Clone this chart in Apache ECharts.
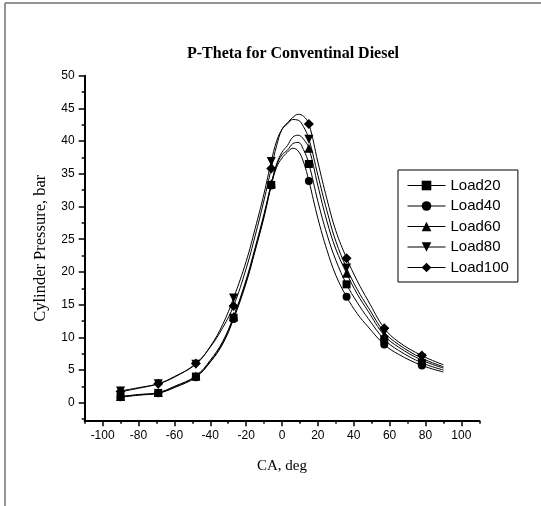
<!DOCTYPE html>
<html>
<head>
<meta charset="utf-8">
<script src="https://cdn.jsdelivr.net/npm/echarts@6/dist/echarts.min.js"></script>
<style>html,body{margin:0;padding:0;background:#fff}#c{width:541px;height:506px}</style>
</head>
<body>
<div id="c"></div>
<script>
const xs = [-90, -80, -69, -60, -48, -40, -33, -27, -20, -15, -10, -6, -3, 0, 3, 6, 9, 12, 15, 20, 25, 30, 36, 42, 48, 57, 65, 78, 90];
const markerX = [-90, -69, -48, -27, -6, 15, 36, 57, 78];
const load20 = [0.9, 1.2, 1.5, 2.4, 4.0, 6.3, 9.2, 13.0, 18.5, 23.4, 28.6, 33.3, 36.3, 37.9, 38.6, 39.6, 39.8, 38.7, 36.5, 30.8, 25.8, 21.8, 18.1, 15.3, 12.9, 9.7, 8.0, 6.1, 5.0];
const load40 = [0.85, 1.15, 1.45, 2.3, 3.9, 6.2, 9.0, 12.8, 18.3, 23.2, 28.4, 33.2, 36.0, 37.4, 38.3, 38.9, 38.5, 36.8, 33.9, 28.2, 23.4, 19.5, 16.2, 13.6, 11.6, 8.9, 7.4, 5.7, 4.7];
const load60 = [0.95, 1.25, 1.55, 2.5, 4.1, 6.5, 9.4, 13.2, 18.8, 23.7, 28.9, 33.5, 36.5, 38.3, 39.3, 40.6, 40.9, 40.3, 38.9, 33.2, 27.8, 23.5, 19.8, 16.6, 14.0, 10.3, 8.5, 6.5, 5.3];
const load80 = [1.8, 2.3, 2.9, 4.0, 5.9, 8.6, 12.0, 16.0, 21.6, 26.6, 32.0, 36.9, 40.0, 41.8, 42.6, 43.3, 43.2, 42.2, 40.3, 34.8, 29.4, 24.7, 20.6, 17.3, 14.6, 10.8, 8.9, 6.8, 5.5];
const load100 = [1.7, 2.2, 2.9, 3.9, 6.0, 8.5, 11.5, 14.8, 20.5, 25.5, 31.0, 35.8, 39.3, 41.8, 42.8, 43.6, 44.1, 43.8, 42.6, 36.8, 31.2, 26.3, 22.1, 18.6, 15.6, 11.4, 9.3, 7.2, 5.8];
const seriesNames = ['Load20', 'Load40', 'Load60', 'Load80', 'Load100'];
const xTickLabels = [-100, -80, -60, -40, -20, 0, 20, 40, 60, 80, 100];
const xMinorTicks = [-110, -90, -70, -50, -30, -10, 10, 30, 50, 70, 90, 110];
const yTickLabels = [0, 5, 10, 15, 20, 25, 30, 35, 40, 45, 50];
const yMinorTicks = [-2.5, 2.5, 7.5, 12.5, 17.5, 22.5, 27.5, 32.5, 37.5, 42.5, 47.5];

const allData = [load20, load40, load60, load80, load100];
const symbols = [
  {symbol: 'rect', size: 8, rotate: 0},
  {symbol: 'circle', size: 8, rotate: 0},
  {symbol: 'triangle', size: 9, rotate: 0},
  {symbol: 'triangle', size: 9, rotate: 180},
  {symbol: 'diamond', size: 10, rotate: 0}
];

function build(vals) {
  return xs.map((x, i) => markerX.indexOf(x) >= 0 ? {value: [x, vals[i]]} : {value: [x, vals[i]], symbol: 'none'});
}

const chart = echarts.init(document.getElementById('c'), null, {renderer: 'canvas'});
const axisLine = {show: true, onZero: false, lineStyle: {color: '#000', width: 2}};
const serif = 'Liberation Serif, Times New Roman, serif';
const sans = 'Liberation Sans, Arial, sans-serif';

chart.setOption({
  animation: false,
  backgroundColor: '#fff',
  title: {
    text: 'P-Theta for Conventinal Diesel',
    left: 288, top: 41, textAlign: 'center',
    textStyle: {fontFamily: serif, fontWeight: 'bold', fontSize: 16, color: '#000'}
  },
  graphic: [
    {type: 'line', shape: {x1: 5, y1: 3, x2: 541, y2: 3}, style: {stroke: '#707070', lineWidth: 1.5}},
    {type: 'line', shape: {x1: 5, y1: 3, x2: 5, y2: 506}, style: {stroke: '#707070', lineWidth: 1.5}}
  ],
  legend: {
    orient: 'vertical',
    left: 398, top: 170,
    padding: [8, 9, 7, 9],
    borderColor: '#000', borderWidth: 1,
    itemWidth: 38, itemHeight: 12, itemGap: 5.5,
    lineStyle: {width: 1},
    textStyle: {fontFamily: sans, fontSize: 15, color: '#000'},
    data: seriesNames
  },
  grid: {left: 84.7, right: 61.7, top: 75.7, bottom: 85.3, containLabel: false},
  xAxis: [
    {
      type: 'value', min: -110, max: 110,
      name: 'CA, deg', nameLocation: 'middle', nameGap: 38,
      nameTextStyle: {fontFamily: serif, fontSize: 15, color: '#000'},
      axisLine: axisLine,
      axisTick: {show: true, length: 5.5, lineStyle: {color: '#000', width: 1.5}, customValues: xTickLabels},
      axisLabel: {show: true, margin: 9, fontFamily: sans, fontSize: 12, color: '#000', customValues: xTickLabels},
      splitLine: {show: false}
    },
    {
      type: 'value', min: -110, max: 110, position: 'bottom',
      axisLine: {show: false, onZero: false},
      axisTick: {show: true, length: 3, lineStyle: {color: '#000', width: 1.5}, customValues: xMinorTicks},
      axisLabel: {show: false},
      splitLine: {show: false}
    }
  ],
  yAxis: [
    {
      type: 'value', min: -2.75, max: 50,
      name: 'Cylinder Pressure, bar', nameLocation: 'middle', nameGap: 36,
      nameTextStyle: {fontFamily: serif, fontSize: 16.5, color: '#000'},
      axisLine: axisLine,
      axisTick: {show: true, length: 6, lineStyle: {color: '#000', width: 1.5}, customValues: yTickLabels},
      axisLabel: {show: true, margin: 10, fontFamily: sans, fontSize: 12, color: '#000', customValues: yTickLabels},
      splitLine: {show: false}
    },
    {
      type: 'value', min: -2.75, max: 50, position: 'left',
      axisLine: {show: false, onZero: false},
      axisTick: {show: true, length: 3, lineStyle: {color: '#000', width: 1.5}, customValues: yMinorTicks},
      axisLabel: {show: false},
      splitLine: {show: false}
    }
  ],
  series: allData.map((vals, k) => ({
    name: seriesNames[k],
    type: 'line',
    xAxisIndex: 0, yAxisIndex: 0,
    smooth: 0.4,
    symbol: symbols[k].symbol,
    symbolSize: symbols[k].size,
    symbolRotate: symbols[k].rotate,
    itemStyle: {color: '#000'},
    lineStyle: {color: '#000', width: 1},
    data: build(vals)
  }))
});
</script>
</body>
</html>
